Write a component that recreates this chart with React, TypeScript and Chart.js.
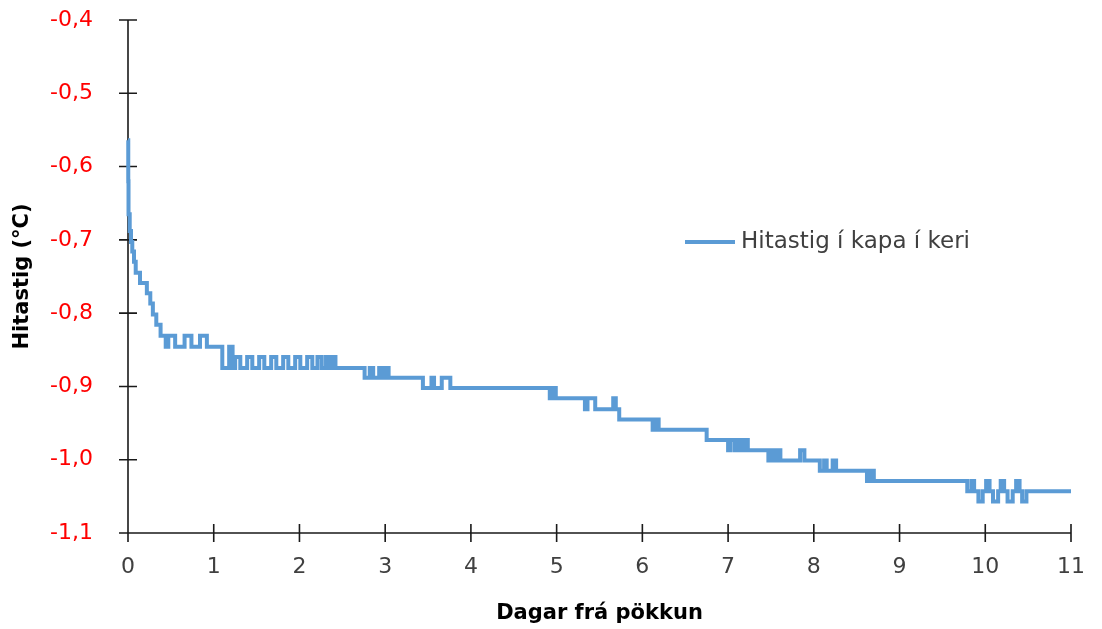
import React, { useEffect, useRef } from "react";
import { Chart, registerables } from "chart.js";

Chart.register(...registerables);

const seriesLabel = "Hitastig í kapa í keri";
const xTitle = "Dagar frá pökkun";
const yTitle = "Hitastig (°C)";
const xTicks = [0, 1, 2, 3, 4, 5, 6, 7, 8, 9, 10, 11];
const yTicks = [-1.1, -1.0, -0.9, -0.8, -0.7, -0.6, -0.5, -0.4];

// change points: at days[i] the reading becomes temps[i]
const days = [
  0, 0.003, 0.006, 0.02, 0.035, 0.05, 0.07, 0.09, 0.14, 0.22, 0.26, 0.29, 0.33, 0.38,
  0.44, 0.47, 0.55, 0.66, 0.74, 0.84, 0.92,
  1.1, 1.18, 1.22,
  1.25, 1.31, 1.39, 1.45, 1.53, 1.59, 1.67, 1.73, 1.81, 1.87, 1.95, 2.01, 2.09, 2.15, 2.21, 2.26, 2.31, 2.35, 2.38, 2.42,
  2.76, 2.82, 2.86, 2.93, 2.97, 3.0, 3.04,
  3.44, 3.54, 3.57, 3.66, 3.76,
  4.92, 4.96, 4.99,
  5.33, 5.36, 5.45, 5.66, 5.69, 5.73,
  6.12, 6.16, 6.19,
  6.75,
  7.0, 7.03, 7.08, 7.12, 7.15, 7.19, 7.23,
  7.47, 7.51, 7.54, 7.58, 7.61,
  7.84, 7.89,
  8.07, 8.12, 8.15, 8.22, 8.26,
  8.62, 8.66, 8.7,
  9.79, 9.84, 9.87, 9.92, 9.97, 10.01, 10.05, 10.09, 10.15, 10.18, 10.22, 10.26, 10.32, 10.36, 10.4, 10.43, 10.48,
  11.0,
];
const temps = [
  -0.564, -0.62, -0.665, -0.688, -0.703, -0.716, -0.73, -0.745, -0.759, -0.773, -0.787, -0.802, -0.816, -0.831,
  -0.846, -0.831, -0.846, -0.831, -0.846, -0.831, -0.846,
  -0.875, -0.846, -0.875,
  -0.86, -0.875, -0.86, -0.875, -0.86, -0.875, -0.86, -0.875, -0.86, -0.875, -0.86, -0.875, -0.86, -0.875, -0.86, -0.875, -0.86, -0.875, -0.86, -0.875,
  -0.888, -0.875, -0.888, -0.875, -0.888, -0.875, -0.888,
  -0.902, -0.888, -0.902, -0.888, -0.902,
  -0.916, -0.902, -0.916,
  -0.931, -0.916, -0.931, -0.916, -0.931, -0.945,
  -0.959, -0.945, -0.959,
  -0.973,
  -0.987, -0.973, -0.987, -0.973, -0.987, -0.973, -0.987,
  -1.001, -0.987, -1.001, -0.987, -1.001,
  -0.987, -1.001,
  -1.015, -1.001, -1.015, -1.001, -1.015,
  -1.029, -1.015, -1.029,
  -1.043, -1.029, -1.043, -1.057, -1.043, -1.029, -1.043, -1.057, -1.043, -1.029, -1.043, -1.057, -1.043, -1.029, -1.043, -1.057, -1.043,
  -1.043,
];

const FONT = "'DejaVu Sans', 'Open Sans', sans-serif";
const LINE_COLOR = "#5B9BD5";

const decorPlugin = {
  id: "decor",
  beforeDatasetsDraw(chart: any) {
    const { ctx, chartArea: a, scales } = chart;
    const x = scales.x;
    const y = scales.y;
    ctx.save();
    ctx.strokeStyle = "#1a1a1a";
    ctx.lineWidth = 1.6;
    ctx.beginPath();
    ctx.moveTo(a.left, a.top);
    ctx.lineTo(a.left, a.bottom);
    ctx.moveTo(a.left, a.bottom);
    ctx.lineTo(a.right, a.bottom);
    for (const v of yTicks) {
      const py = y.getPixelForValue(v);
      ctx.moveTo(a.left - 9, py);
      ctx.lineTo(a.left + 9, py);
    }
    for (const v of xTicks) {
      const px = x.getPixelForValue(v);
      ctx.moveTo(px, a.bottom - 9);
      ctx.lineTo(px, a.bottom + 9);
    }
    ctx.stroke();
    ctx.restore();
  },
  afterDraw(chart: any) {
    const { ctx, chartArea: a } = chart;
    const ds = chart.data.datasets[0];
    const lx = a.left + 557;
    const ly = a.top + 222;
    ctx.save();
    ctx.strokeStyle = ds.borderColor;
    ctx.lineWidth = 4;
    ctx.beginPath();
    ctx.moveTo(lx, ly);
    ctx.lineTo(lx + 50, ly);
    ctx.stroke();
    ctx.fillStyle = "#404040";
    ctx.font = `23px ${FONT}`;
    ctx.textBaseline = "middle";
    ctx.textAlign = "left";
    ctx.fillText(ds.label, lx + 56, ly);
    ctx.restore();
  },
};

export default function App() {
  const ref = useRef<HTMLCanvasElement | null>(null);
  useEffect(() => {
    document.body.style.margin = "0";
    const canvas = ref.current;
    if (!canvas) return;
    const chart = new Chart(canvas, {
      type: "line",
      data: {
        datasets: [
          {
            label: seriesLabel,
            data: days.map((d, i) => ({ x: d, y: temps[i] })),
            borderColor: LINE_COLOR,
            backgroundColor: LINE_COLOR,
            borderWidth: 4,
            pointRadius: 0,
            pointHoverRadius: 0,
            stepped: "before",
            tension: 0,
            clip: 8,
          },
        ],
      },
      options: {
        animation: false,
        responsive: true,
        maintainAspectRatio: false,
        layout: { padding: { top: 20, right: 31, left: 0, bottom: 0 } },
        plugins: { legend: { display: false }, tooltip: { enabled: false } },
        scales: {
          x: {
            type: "linear",
            min: 0,
            max: 11,
            grid: { display: false, drawTicks: false, tickLength: 0 },
            border: { display: false },
            ticks: {
              stepSize: 1,
              color: "#404040",
              padding: 21,
              font: { family: FONT, size: 22 },
              callback: (v: any) => String(v),
            },
            title: {
              display: true,
              text: xTitle,
              color: "#000",
              font: { family: FONT, size: 21, weight: "bold" },
              padding: { top: 0, bottom: 3 },
            },
            afterFit: (s: any) => {
              s.height = 96;
              s.paddingLeft = 0;
              s.paddingRight = 0;
            },
          },
          y: {
            type: "linear",
            min: -1.1,
            max: -0.4,
            grid: { display: false, drawTicks: false, tickLength: 0 },
            border: { display: false },
            ticks: {
              stepSize: 0.1,
              color: "#FF0000",
              padding: 35,
              font: { family: FONT, size: 22 },
              callback: (v: any) => (Math.round(Number(v) * 10) / 10).toFixed(1).replace(".", ","),
            },
            title: {
              display: true,
              text: yTitle,
              color: "#000",
              font: { family: FONT, size: 21, weight: "bold" },
              padding: { top: 10, bottom: 0 },
            },
            afterFit: (s: any) => {
              s.width = 128;
              s.paddingTop = 0;
              s.paddingBottom = 0;
            },
          },
        },
      },
      plugins: [decorPlugin],
    });
    return () => chart.destroy();
  }, []);
  return (
    <div style={{ position: "absolute", left: 0, top: 0, width: 1102, height: 629, background: "#fff" }}>
      <canvas ref={ref} />
    </div>
  );
}
